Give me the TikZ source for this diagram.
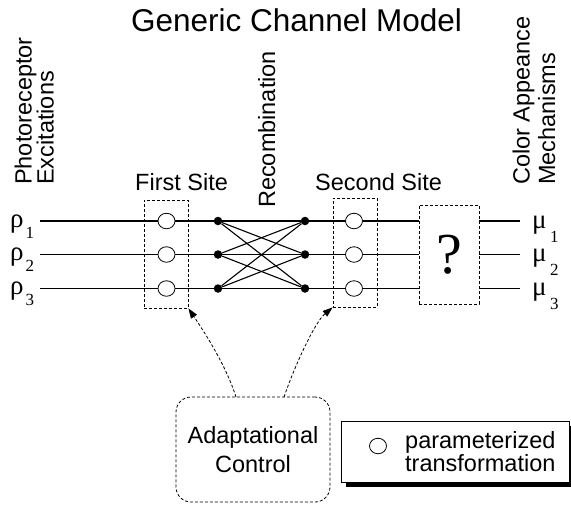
\documentclass[tikz,border=0pt]{standalone}
\usepackage{fontspec}
\setmainfont{Liberation Sans}
\newfontfamily\seriffont{Liberation Serif}
\usetikzlibrary{arrows.meta,shapes.geometric}
\begin{document}
\begin{tikzpicture}[x=1pt,y=-1pt,
  lbl/.style={font=\fontsize{23.5}{28}\selectfont, inner sep=0pt},
  vlbl/.style={lbl, rotate=90, anchor=base west},
  wire/.style={line width=1.1pt},
  dbox/.style={draw, dash pattern=on 3pt off 2pt, line width=0.8pt, inner sep=0pt},
  xform/.style={draw, fill=white, ellipse, minimum width=17pt, minimum height=15.5pt, inner sep=0pt, line width=0.8pt},
  junc/.style={circle, fill=black, minimum size=8.5pt, inner sep=0pt},
  ctrl/.style={dash pattern=on 3pt off 2pt, line width=0.8pt, -{Triangle[length=10pt,width=7pt]}},
  greek/.style={font=\seriffont\fontsize{27}{29}\selectfont, inner sep=0pt, anchor=base west},
  subs/.style={font=\seriffont\fontsize{17}{19}\selectfont, inner sep=0pt, anchor=base west},
  legbox/.style={minimum width=228pt, minimum height=61pt, inner sep=0pt, outer sep=0pt}
]
\useasboundingbox (0,0) rectangle (571,504);

% title
\node[font=\fontsize{31.5}{36}\selectfont, inner sep=0pt, anchor=base] (title) at (296.5,31) {Generic Channel Model};

% rotated labels
\node[vlbl] (photo) at (31.5,185) {Photoreceptor};
\node[vlbl] (excit) at (53.5,185) {Excitations};
\node[vlbl] (recomb) at (275,208) {Recombination};
\node[vlbl] (color) at (529.5,185) {Color Appeance};
\node[vlbl] (mech) at (555,185) {Mechanisms};

% site labels
\node[lbl, anchor=base west] (first) at (135,190) {First Site};
\node[lbl, anchor=base west] (second) at (315,190) {Second Site};

% dashed boxes
\node[dbox, minimum width=44pt, minimum height=108pt] (site1) at (166,254) {};
\node[dbox, minimum width=44pt, minimum height=109pt] (site2) at (355,252.5) {};
\node[dbox, minimum width=60pt, minimum height=99pt, font=\seriffont\fontsize{58}{60}\selectfont] (q) at (449,254.5) {?};

% rows
\foreach \i/\y in {1/221,2/254.5,3/288.5}{
  \coordinate (in\i) at (40,\y);
  \coordinate (o\i) at (520,\y);
  \node[xform] (c\i) at (166.5,\y) {};
  \node[xform] (d\i) at (354,\y) {};
  \node[junc] (a\i) at (218,\y) {};
  \node[junc] (b\i) at (305,\y) {};
  \node[greek] (rho\i) at (10,\y+6) {ρ};
  \node[subs] (rs\i) at (25.5,\y+17) {\i};
  \node[greek] (mu\i) at (532,\y+7) {μ};
  \node[subs] (ms\i) at (550,\y+21) {\i};
}
\foreach \i in {1,2,3}{
  \draw[wire] (in\i) -- (c\i) -- (a\i);
  \draw[wire] (b\i) -- (d\i) -- (d\i -| q.west);
  \draw[wire] (q.east |- d\i) -- (o\i);
  \foreach \j in {1,2,3}{
    \draw[wire] (a\i) -- (b\j);
  }
}

% adaptational control
\node[dbox, rounded corners=15pt, minimum width=154pt, minimum height=105pt, align=center,
      font=\fontsize{23.5}{28.5}\selectfont] (adapt) at (253,449.5) {Adaptational\\Control};
\coordinate (s1) at (236,397);
\coordinate (s2) at (284,397);
\draw[ctrl] (s1) .. controls (226,365) and (203,330) .. (site1.south east);
\draw[ctrl] (s2) .. controls (295,365) and (315,322) .. (site2.south west);

% legend
\node[legbox, fill=black] (shadow) at (459.5,456.5) {};
\node[legbox, draw, fill=white, line width=0.8pt] (legend) at (455,451.5) {};
\node[xform] (lc) at (378,446) {};
\node[font=\fontsize{23.5}{20}\selectfont, inner sep=0pt, align=left, anchor=north west] (lt) at (405,431) {parameterized\\transformation};
\end{tikzpicture}
\end{document}
